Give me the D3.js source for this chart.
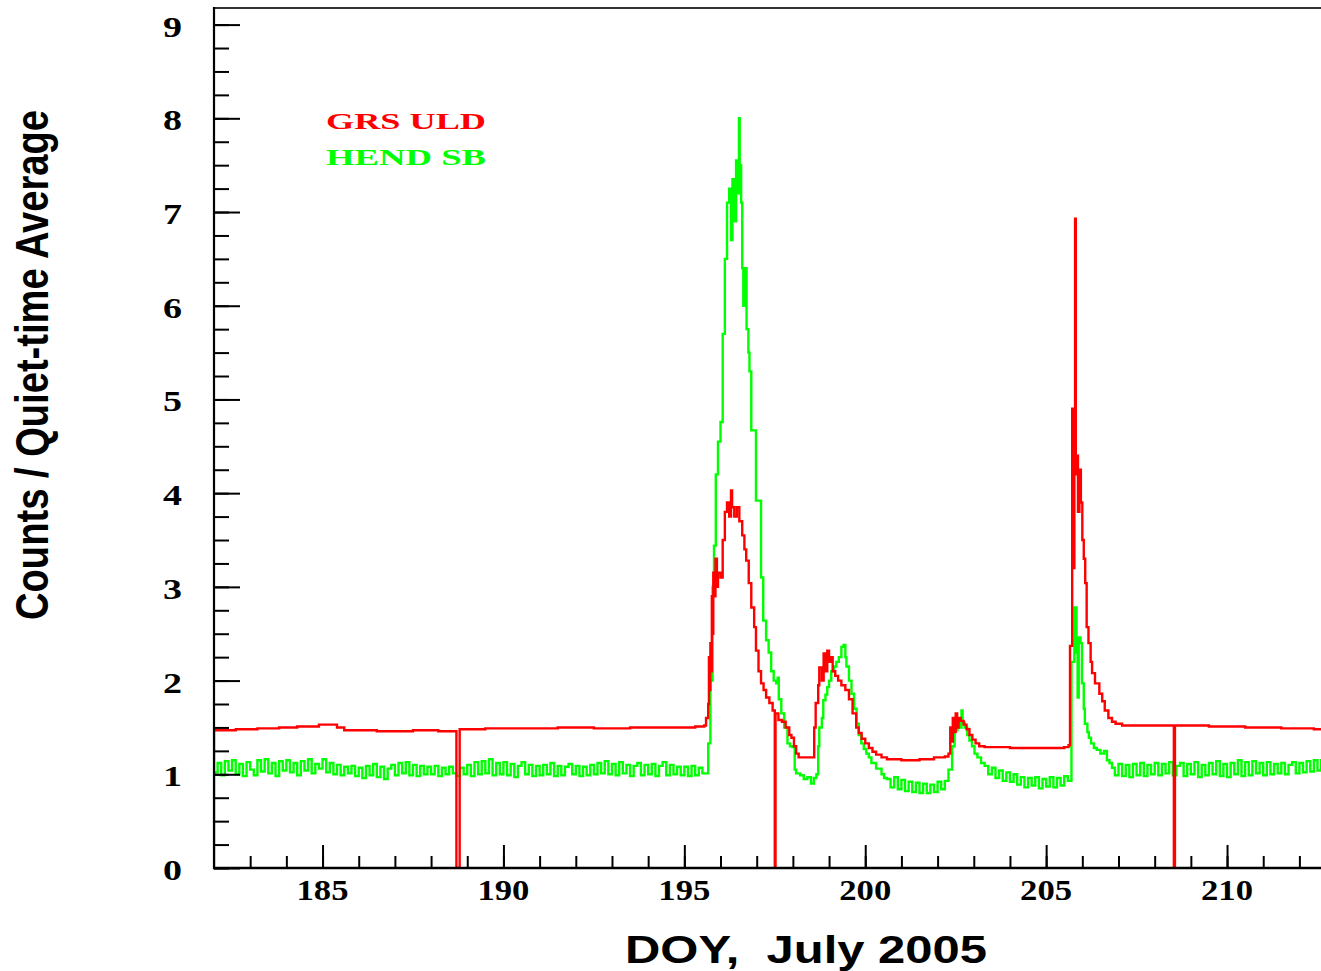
<!DOCTYPE html>
<html>
<head>
<meta charset="utf-8">
<script src="https://cdn.jsdelivr.net/npm/d3@7"></script>
<style>
  body { margin: 0; background: #fff; }
  svg { display: block; }
</style>
</head>
<body>
<div id="chart"></div>
<script>
// GRS ULD counts / quiet-time average, [DOY, value]
var grsUld = [
  [182.0, 0], [182.0, 1.47], [182.6, 1.48], [183.2, 1.49], [183.8, 1.50], [184.3, 1.51],
  [184.9, 1.53], [185.4, 1.50], [185.6, 1.47], [186.5, 1.46], [187.5, 1.47], [188.2, 1.46],
  [188.70, 0], [188.79, 1.48], [189.5, 1.49], [190.5, 1.49], [191.5, 1.50], [192.5, 1.49],
  [193.5, 1.50], [194.5, 1.50], [195.3, 1.51], [195.55, 1.52],
  [195.60, 1.60], [195.66, 1.75], [195.68, 2.25], [195.70, 1.9], [195.72, 2.4], [195.74, 2.1],
  [195.76, 2.9], [195.78, 2.5], [195.80, 3.15], [195.83, 2.9], [195.86, 3.3], [195.90, 3.0],
  [195.93, 3.15], [196.0, 3.1], [196.06, 3.5], [196.12, 3.8], [196.18, 3.9],
  [196.24, 3.75], [196.29, 4.03], [196.32, 3.85], [196.38, 3.75], [196.45, 3.85], [196.52, 3.7],
  [196.60, 3.55], [196.66, 3.4], [196.71, 3.28], [196.78, 3.04], [196.85, 2.78], [196.93, 2.57],
  [196.98, 2.32], [197.05, 2.1], [197.12, 1.97], [197.19, 1.9], [197.26, 1.82], [197.35, 1.76],
  [197.44, 1.68], [197.50, 0], [197.52, 1.65], [197.60, 1.58], [197.70, 1.56], [197.80, 1.50],
  [197.90, 1.42], [197.96, 1.39], [198.03, 1.30], [198.09, 1.22], [198.16, 1.18],
  [198.59, 1.5], [198.63, 1.76], [198.70, 1.95], [198.73, 2.14], [198.80, 2.0], [198.85, 2.29],
  [198.90, 2.1], [198.95, 2.32], [199.0, 2.2], [199.05, 2.25], [199.10, 2.1], [199.17, 2.05],
  [199.25, 2.0], [199.34, 1.95], [199.45, 1.9], [199.55, 1.8], [199.65, 1.65], [199.75, 1.5],
  [199.82, 1.44], [199.90, 1.38], [200.0, 1.33], [200.1, 1.28], [200.2, 1.24], [200.3, 1.21],
  [200.45, 1.18], [200.6, 1.16], [201.0, 1.15], [201.5, 1.16], [201.9, 1.18], [202.2, 1.19],
  [202.30, 1.22], [202.35, 1.5], [202.38, 1.35], [202.42, 1.6], [202.46, 1.45], [202.50, 1.65],
  [202.54, 1.5], [202.58, 1.6], [202.64, 1.57], [202.72, 1.53], [202.80, 1.48], [202.88, 1.42],
  [202.96, 1.37], [203.05, 1.33], [203.15, 1.30], [203.3, 1.29], [204.0, 1.28], [205.0, 1.28],
  [205.5, 1.29], [205.62, 1.31], [205.66, 2.37], [205.72, 4.9], [205.75, 3.2], [205.78, 4.5],
  [205.80, 6.93], [205.82, 4.2], [205.85, 4.4], [205.88, 3.8], [205.92, 4.25], [205.96, 3.9],
  [206.00, 3.5], [206.04, 3.3], [206.08, 3.04], [206.12, 2.57], [206.17, 2.4], [206.23, 2.2],
  [206.27, 2.08], [206.35, 1.97], [206.47, 1.86], [206.55, 1.78], [206.62, 1.68], [206.72, 1.6],
  [206.82, 1.56], [206.92, 1.54], [207.1, 1.52], [208.0, 1.52], [208.53, 0], [208.56, 1.52],
  [209.0, 1.52], [209.5, 1.51], [210.0, 1.51], [210.5, 1.50], [211.0, 1.50], [211.5, 1.49],
  [212.0, 1.49], [212.4, 1.48], [212.7, 1.47]
];

// HEND SB counts / quiet-time average, [DOY, value]
var hendSb = [
  [182.0, 1.02], [182.1, 1.12], [182.2, 0.99], [182.3, 1.14], [182.4, 1.04], [182.5, 1.15], [182.6, 1.00], [182.7, 1.11], [182.8, 0.98], [182.9, 1.13],
  [183.0, 1.05], [183.1, 0.99], [183.2, 1.15], [183.3, 1.03], [183.4, 1.16], [183.5, 1.01], [183.6, 1.12], [183.7, 0.98], [183.8, 1.14], [183.9, 1.04],
  [184.0, 1.15], [184.1, 1.02], [184.2, 1.12], [184.3, 0.99], [184.4, 1.14], [184.5, 1.04], [184.6, 1.16], [184.7, 1.01], [184.8, 1.11], [184.9, 1.06],
  [185.0, 1.16], [185.1, 1.02], [185.2, 1.12], [185.3, 1.00], [185.4, 1.10], [185.5, 0.99], [185.6, 1.08], [185.7, 1.01], [185.8, 1.09], [185.9, 0.98],
  [186.0, 1.07], [186.1, 0.96], [186.2, 1.09], [186.3, 0.99], [186.4, 1.11], [186.5, 0.97], [186.6, 1.08], [186.7, 0.95], [186.8, 1.06], [186.9, 1.10],
  [187.0, 0.99], [187.1, 1.12], [187.2, 1.01], [187.3, 1.13], [187.4, 0.99], [187.5, 1.10], [187.6, 0.98], [187.7, 1.09], [187.8, 1.00], [187.9, 1.08],
  [188.0, 1.00], [188.1, 1.09], [188.2, 0.98], [188.3, 1.07], [188.4, 1.00], [188.5, 1.08], [188.6, 1.01], [188.7, 0.98], [188.8, 1.07], [188.9, 1.00],
  [189.0, 1.10], [189.1, 0.98], [189.2, 1.13], [189.3, 1.00], [189.4, 1.14], [189.5, 1.01], [189.6, 1.16], [189.7, 0.99], [189.8, 1.12], [189.9, 1.00],
  [190.0, 1.13], [190.1, 0.99], [190.2, 1.11], [190.3, 0.97], [190.4, 1.09], [190.5, 1.13], [190.6, 1.00], [190.7, 1.10], [190.8, 0.98], [190.9, 1.09],
  [191.0, 0.99], [191.1, 1.10], [191.2, 1.00], [191.3, 1.12], [191.4, 0.98], [191.5, 1.09], [191.6, 0.99], [191.7, 1.08], [191.8, 1.11], [191.9, 1.00],
  [192.0, 1.09], [192.1, 0.98], [192.2, 1.08], [192.3, 0.99], [192.4, 1.10], [192.5, 1.00], [192.6, 1.12], [192.7, 1.01], [192.8, 1.14], [192.9, 1.00],
  [193.0, 1.11], [193.1, 0.99], [193.2, 1.13], [193.3, 1.01], [193.4, 1.10], [193.5, 0.98], [193.6, 1.09], [193.7, 1.12], [193.8, 0.99], [193.9, 1.10],
  [194.0, 1.00], [194.1, 1.11], [194.2, 0.98], [194.3, 1.09], [194.4, 1.13], [194.5, 0.99], [194.6, 1.10], [194.7, 1.00], [194.8, 1.08], [194.9, 0.99],
  [195.0, 1.08], [195.1, 0.98], [195.2, 1.09], [195.3, 0.99], [195.4, 1.07], [195.5, 1.01],
  [195.66, 1.33], [195.72, 2.0], [195.78, 3.0], [195.82, 3.44], [195.87, 4.2], [195.93, 4.55],
  [196.00, 4.76], [196.06, 5.7], [196.12, 6.5], [196.18, 7.1], [196.24, 7.25], [196.29, 6.7],
  [196.33, 7.35], [196.38, 6.9], [196.43, 7.55], [196.48, 7.2], [196.51, 8.0], [196.53, 7.5],
  [196.57, 7.1], [196.60, 6.4], [196.63, 6.0], [196.67, 6.4], [196.72, 5.75], [196.77, 5.5],
  [196.80, 5.3], [196.85, 4.67], [196.98, 3.92], [197.12, 3.1], [197.18, 2.64], [197.26, 2.43],
  [197.33, 2.3], [197.40, 2.1], [197.47, 2.0], [197.54, 1.97], [197.58, 2.03], [197.61, 1.8],
  [197.68, 1.65], [197.76, 1.5], [197.85, 1.33], [197.92, 1.3], [197.98, 1.29], [198.05, 1.05],
  [198.09, 1.01], [198.2, 0.99], [198.3, 0.95], [198.4, 0.97], [198.5, 0.90], [198.58, 0.96],
  [198.65, 1.0], [198.70, 1.3], [198.73, 1.5], [198.80, 1.6], [198.84, 1.79], [198.90, 1.85],
  [198.95, 1.93], [199.00, 2.0], [199.06, 2.1], [199.13, 2.15], [199.20, 2.2], [199.27, 2.25],
  [199.34, 2.36], [199.40, 2.38], [199.45, 2.25], [199.48, 2.15], [199.55, 2.0], [199.62, 1.86],
  [199.69, 1.7], [199.76, 1.54], [199.82, 1.42], [199.89, 1.33], [199.96, 1.27], [200.03, 1.22],
  [200.10, 1.18], [200.17, 1.12], [200.30, 1.06], [200.45, 1.0], [200.52, 0.96],
  [200.6, 0.95], [200.7, 0.86], [200.8, 0.97], [200.9, 0.84], [201.0, 0.94], [201.1, 0.82], [201.2, 0.92], [201.3, 0.81], [201.4, 0.91], [201.5, 0.80],
  [201.6, 0.90], [201.7, 0.80], [201.8, 0.89], [201.9, 0.81], [202.0, 0.92], [202.1, 0.84], [202.2, 0.93],
  [202.30, 1.05], [202.40, 1.3], [202.47, 1.47], [202.55, 1.58], [202.62, 1.5], [202.66, 1.68],
  [202.69, 1.55], [202.75, 1.5], [202.82, 1.42], [202.88, 1.36], [202.95, 1.3], [203.02, 1.22],
  [203.1, 1.18], [203.2, 1.12],
  [203.3, 1.09], [203.4, 1.00], [203.5, 1.07], [203.6, 0.96], [203.7, 1.04], [203.8, 0.93], [203.9, 1.02],
  [204.0, 0.92], [204.1, 1.00], [204.2, 0.89], [204.3, 0.97], [204.4, 0.86], [204.5, 0.96], [204.6, 0.88], [204.7, 0.97], [204.8, 0.85], [204.9, 0.95],
  [205.0, 0.87], [205.1, 0.97], [205.2, 0.86], [205.3, 0.96], [205.4, 0.88], [205.5, 0.98], [205.6, 0.93],
  [205.70, 2.2], [205.78, 2.78], [205.84, 2.3], [205.87, 1.82], [205.90, 2.46], [205.95, 2.4],
  [205.99, 1.97], [206.04, 1.7], [206.07, 1.54], [206.14, 1.45], [206.18, 1.39], [206.24, 1.33],
  [206.32, 1.28], [206.40, 1.26], [206.5, 1.22], [206.6, 1.25], [206.68, 1.15], [206.75, 1.12], [206.82, 1.07],
  [206.9, 0.99], [207.0, 1.11], [207.1, 0.98], [207.2, 1.10], [207.3, 0.97], [207.4, 1.11], [207.5, 0.99], [207.6, 1.12], [207.7, 0.98], [207.8, 1.10],
  [207.9, 1.00], [208.0, 1.12], [208.1, 0.99], [208.2, 1.11], [208.3, 1.01], [208.4, 1.13], [208.5, 0.99], [208.6, 1.09], [208.7, 1.12], [208.8, 0.98],
  [208.9, 1.11], [209.0, 1.00], [209.1, 1.13], [209.2, 0.97], [209.3, 1.10], [209.4, 0.99], [209.5, 1.12], [209.6, 1.00], [209.7, 1.14], [209.8, 0.98],
  [209.9, 1.11], [210.0, 0.97], [210.1, 1.12], [210.2, 1.00], [210.3, 1.15], [210.4, 0.98], [210.5, 1.13], [210.6, 0.99], [210.7, 1.14], [210.8, 1.01],
  [210.9, 1.12], [211.0, 0.99], [211.1, 1.13], [211.2, 1.00], [211.3, 1.11], [211.4, 1.01], [211.5, 1.12], [211.6, 1.00], [211.7, 1.10], [211.8, 1.13],
  [211.9, 1.01], [212.0, 1.12], [212.1, 1.02], [212.2, 1.14], [212.3, 1.03], [212.4, 1.15], [212.5, 1.04], [212.6, 1.15], [212.7, 1.10]
];

var xTickLabels = [185, 190, 195, 200, 205, 210];
var yTickLabels = [0, 1, 2, 3, 4, 5, 6, 7, 8, 9];
var legendNames = ["GRS ULD", "HEND SB"];
var seriesColors = ["#ff0000", "#00ff00"];

var width = 1321, height = 971;
var margin = { left: 214, top: 8, bottom: 868 };

var svg = d3
  .select("#chart")
  .append("svg")
  .attr("width", width)
  .attr("height", height);

var x = d3.scaleLinear().domain([182, 212.7]).range([214, 214 + 30.7 * 36.18]);
var y = d3.scaleLinear().domain([0, 9]).range([868, 24.6]);

svg
  .append("clipPath")
  .attr("id", "plotClip")
  .append("rect")
  .attr("x", margin.left)
  .attr("y", margin.top)
  .attr("width", width - margin.left)
  .attr("height", margin.bottom - margin.top + 1);

var line = d3
  .line()
  .x(function (d) { return x(d[0]); })
  .y(function (d) { return y(d[1]); })
  .curve(d3.curveStepAfter);

var plot = svg.append("g").attr("clip-path", "url(#plotClip)");

plot
  .append("path")
  .datum(hendSb)
  .attr("d", line)
  .style("fill", "none")
  .style("stroke", seriesColors[1])
  .style("stroke-width", 2.4);

plot
  .append("path")
  .datum(grsUld)
  .attr("d", line)
  .style("fill", "none")
  .style("stroke", seriesColors[0])
  .style("stroke-width", 2.4);

// frame top
svg
  .append("line")
  .attr("x1", margin.left)
  .attr("x2", width)
  .attr("y1", margin.top)
  .attr("y2", margin.top)
  .style("stroke", "#333")
  .style("stroke-width", 2);

// y axis: major + minor ticks pointing into plot
var yMajor = d3.axisRight(y).tickValues(yTickLabels).tickSize(26).tickFormat("");
var yMinor = d3.axisRight(y).tickValues(d3.range(0, 9.01, 0.25)).tickSize(15).tickFormat("");
[yMinor, yMajor].forEach(function (ax) {
  var g = svg
    .append("g")
    .attr("transform", "translate(" + margin.left + ",0)")
    .call(ax);
  g.select(".domain").remove();
  g.selectAll("line").style("stroke", "#000").style("stroke-width", 2);
});
svg
  .append("line")
  .attr("x1", margin.left)
  .attr("x2", margin.left)
  .attr("y1", margin.top - 1)
  .attr("y2", margin.bottom + 1)
  .style("stroke", "#000")
  .style("stroke-width", 2.2);

// x axis: ticks pointing up
var xMajor = d3.axisTop(x).tickValues(xTickLabels).tickSize(23).tickFormat("");
var xMinor = d3.axisTop(x).tickValues(d3.range(183, 213, 1)).tickSize(12).tickFormat("");
[xMinor, xMajor].forEach(function (ax) {
  var g = svg
    .append("g")
    .attr("transform", "translate(0," + margin.bottom + ")")
    .call(ax);
  g.select(".domain").remove();
  g.selectAll("line").style("stroke", "#000").style("stroke-width", 2);
});
svg
  .append("line")
  .attr("x1", margin.left - 1)
  .attr("x2", width)
  .attr("y1", margin.bottom)
  .attr("y2", margin.bottom)
  .style("stroke", "#000")
  .style("stroke-width", 2.5);

// tick labels
svg
  .selectAll(".ylab")
  .data(yTickLabels)
  .enter()
  .append("text")
  .attr("class", "ylab")
  .attr("x", 182)
  .attr("y", function (d) { return y(d) + 12; })
  .attr("text-anchor", "end")
  .attr("textLength", 19)
  .attr("lengthAdjust", "spacingAndGlyphs")
  .style("font-family", "'Liberation Serif', serif")
  .style("font-weight", "bold")
  .style("font-size", "29px")
  .text(function (d) { return d; });

svg
  .selectAll(".xlab")
  .data(xTickLabels)
  .enter()
  .append("text")
  .attr("class", "xlab")
  .attr("x", function (d) { return x(d) - 26; })
  .attr("y", 900)
  .attr("textLength", 52)
  .attr("lengthAdjust", "spacingAndGlyphs")
  .style("font-family", "'Liberation Serif', serif")
  .style("font-weight", "bold")
  .style("font-size", "29px")
  .text(function (d) { return d; });

// legend
svg
  .selectAll(".legend")
  .data(legendNames)
  .enter()
  .append("text")
  .attr("class", "legend")
  .attr("x", 326)
  .attr("y", function (d, i) { return 129 + i * 36; })
  .attr("textLength", 160)
  .attr("lengthAdjust", "spacingAndGlyphs")
  .style("fill", function (d, i) { return seriesColors[i]; })
  .style("font-family", "'Liberation Serif', serif")
  .style("font-weight", "bold")
  .style("font-size", "24px")
  .text(function (d) { return d; });

// axis titles
svg
  .append("text")
  .attr("x", 625)
  .attr("y", 963)
  .attr("textLength", 362)
  .attr("lengthAdjust", "spacingAndGlyphs")
  .style("font-family", "'Liberation Sans', Arial, sans-serif")
  .style("font-weight", "bold")
  .style("font-size", "38px")
  .style("white-space", "pre")
  .text("DOY,  July 2005");

svg
  .append("text")
  .attr("transform", "translate(48,365) scale(1.3,1) rotate(-90)")
  .attr("text-anchor", "middle")
  .attr("textLength", 510)
  .attr("lengthAdjust", "spacingAndGlyphs")
  .style("font-family", "'Liberation Sans', Arial, sans-serif")
  .style("font-weight", "bold")
  .style("font-size", "36px")
  .text("Counts / Quiet-time Average");
</script>
</body>
</html>
